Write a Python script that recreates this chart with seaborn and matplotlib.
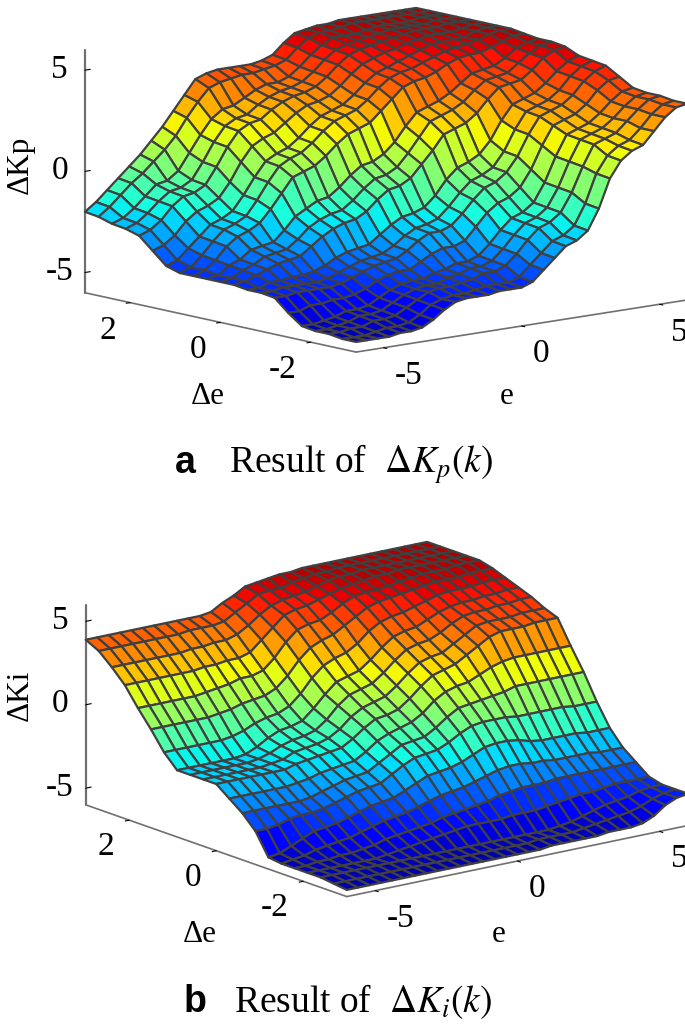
import numpy as np
import matplotlib
matplotlib.use("Agg")
import matplotlib.pyplot as plt
import seaborn as sns

# grid of the two surfaces
e_values = [-6.0, -5.6, -5.2, -4.8, -4.4, -4.0, -3.6, -3.2, -2.8, -2.4, -2.0, -1.6, -1.2, -0.8, -0.4, 0.0,
            0.4, 0.8, 1.2, 1.6, 2.0, 2.4, 2.8, 3.2, 3.6, 4.0, 4.4, 4.8, 5.2, 5.6, 6.0]
de_values = [3.0, 2.7, 2.4, 2.1, 1.8, 1.5, 1.2, 0.9, 0.6, 0.3, 0.0, -0.3, -0.6, -0.9, -1.2, -1.5, -1.8, -2.1, -2.4, -2.7, -3.0]

# result of delta Kp, one row per delta e
kp_rows = [
    [-2.0,-1.6,-1.1,-0.6,-0.1,0.4,1.0,1.6,2.3,3.0,3.7,3.9,4.0,4.0,4.0,4.0,4.1,4.3,4.8,5.2,5.3,5.4,5.4,5.5,5.5,5.5,5.5,5.5,5.5,5.5,5.5],
    [-2.1,-1.7,-1.2,-0.7,-0.3,0.2,0.7,1.3,2.1,2.8,3.4,3.6,3.7,3.8,3.8,3.9,4.0,4.2,4.7,5.1,5.3,5.3,5.4,5.5,5.5,5.5,5.5,5.5,5.5,5.5,5.5],
    [-2.3,-2.1,-1.7,-1.2,-0.7,-0.6,-0.2,0.6,1.4,2.1,2.5,2.6,2.9,3.2,3.4,3.4,3.6,4.0,4.5,4.9,5.2,5.2,5.2,5.3,5.4,5.4,5.4,5.4,5.5,5.5,5.5],
    [-2.4,-2.2,-1.8,-1.3,-0.9,-0.8,-0.5,0.3,1.2,1.9,2.2,2.3,2.7,3.0,3.2,3.3,3.5,3.9,4.4,4.8,5.0,5.1,5.2,5.3,5.4,5.4,5.4,5.4,5.5,5.5,5.5],
    [-2.6,-2.4,-2.0,-1.4,-1.0,-0.9,-0.6,0.2,1.1,1.8,2.1,2.2,2.6,2.9,3.1,3.2,3.4,3.8,4.3,4.7,4.9,5.0,5.1,5.2,5.3,5.4,5.4,5.4,5.5,5.5,5.5],
    [-3.2,-3.0,-2.6,-2.0,-1.6,-1.4,-1.1,-0.4,0.5,1.2,1.5,1.7,2.1,2.5,2.8,2.9,3.1,3.5,4.0,4.4,4.6,4.8,4.9,5.1,5.2,5.3,5.3,5.3,5.4,5.5,5.5],
    [-3.8,-3.6,-3.1,-2.6,-2.1,-1.9,-1.6,-0.9,-0.1,0.6,0.9,1.1,1.5,2.0,2.4,2.6,2.8,3.2,3.7,4.1,4.3,4.5,4.7,4.9,5.1,5.1,5.2,5.2,5.4,5.5,5.5],
    [-4.0,-3.8,-3.3,-2.7,-2.2,-2.0,-1.7,-1.0,-0.2,0.5,0.8,1.0,1.4,1.9,2.3,2.5,2.7,3.1,3.6,4.0,4.2,4.3,4.5,4.7,4.9,5.0,5.1,5.2,5.4,5.5,5.5],
    [-4.0,-3.8,-3.4,-2.8,-2.4,-2.2,-1.9,-1.3,-0.6,0.1,0.3,0.5,0.9,1.4,1.8,2.0,2.2,2.7,3.2,3.7,3.9,4.0,4.2,4.5,4.7,4.8,4.8,5.0,5.2,5.4,5.4],
    [-4.0,-3.9,-3.5,-3.3,-2.9,-2.8,-2.7,-2.2,-1.6,-1.3,-1.0,-0.9,-0.5,0.0,0.4,0.5,0.8,1.3,2.0,2.6,2.8,3.0,3.3,3.7,4.1,4.2,4.3,4.6,5.0,5.2,5.3],
    [-4.0,-3.9,-3.6,-3.4,-3.1,-3.0,-2.9,-2.5,-2.0,-1.7,-1.5,-1.4,-1.0,-0.5,-0.1,0.0,0.3,0.9,1.6,2.3,2.5,2.7,3.0,3.5,3.9,4.0,4.1,4.5,4.9,5.2,5.3],
    [-4.0,-3.9,-3.7,-3.5,-3.3,-3.2,-3.1,-2.7,-2.3,-2.0,-1.8,-1.7,-1.4,-0.9,-0.5,-0.4,-0.1,0.5,1.1,1.8,2.0,2.2,2.6,3.2,3.7,3.8,3.9,4.3,4.8,5.1,5.2],
    [-4.1,-4.1,-3.9,-3.9,-3.8,-3.8,-3.7,-3.5,-3.2,-3.0,-2.9,-2.8,-2.4,-2.0,-1.7,-1.6,-1.4,-0.9,-0.2,0.3,0.5,0.8,1.4,2.3,3.0,3.2,3.4,3.8,4.3,4.7,4.9],
    [-4.1,-4.1,-4.0,-4.0,-4.0,-4.0,-3.9,-3.7,-3.5,-3.3,-3.2,-3.1,-2.8,-2.4,-2.1,-2.0,-1.8,-1.3,-0.7,-0.2,0.0,0.3,1.0,2.0,2.8,3.0,3.2,3.6,4.2,4.6,4.8],
    [-4.2,-4.2,-4.1,-4.1,-4.1,-4.1,-4.0,-3.8,-3.6,-3.4,-3.3,-3.2,-2.9,-2.5,-2.2,-2.2,-2.0,-1.5,-0.9,-0.4,-0.2,0.2,0.9,1.9,2.7,2.9,3.1,3.5,4.1,4.5,4.7],
    [-4.8,-4.8,-4.6,-4.6,-4.5,-4.5,-4.4,-4.2,-3.9,-3.7,-3.6,-3.6,-3.3,-3.0,-2.8,-2.8,-2.6,-2.0,-1.4,-1.0,-0.8,-0.4,0.4,1.5,2.4,2.6,2.8,3.2,3.8,4.2,4.3],
    [-5.3,-5.3,-5.2,-5.1,-4.9,-4.9,-4.8,-4.5,-4.2,-4.0,-3.9,-3.9,-3.7,-3.6,-3.4,-3.4,-3.2,-2.7,-2.1,-1.6,-1.4,-1.0,-0.1,1.1,2.1,2.3,2.5,2.9,3.4,3.8,3.9],
    [-5.4,-5.4,-5.3,-5.2,-5.0,-5.0,-4.9,-4.6,-4.3,-4.1,-4.0,-4.0,-3.8,-3.7,-3.5,-3.5,-3.3,-2.8,-2.2,-1.7,-1.5,-1.1,-0.2,1.0,2.0,2.2,2.4,2.8,3.3,3.7,3.8],
    [-5.4,-5.4,-5.3,-5.3,-5.1,-5.1,-5.0,-4.7,-4.4,-4.1,-4.0,-4.0,-3.9,-3.8,-3.6,-3.6,-3.4,-2.9,-2.3,-1.8,-1.6,-1.2,-0.3,0.9,1.9,2.1,2.3,2.8,3.3,3.7,3.8],
    [-5.5,-5.5,-5.5,-5.4,-5.3,-5.3,-5.2,-4.9,-4.5,-4.3,-4.2,-4.2,-4.1,-4.0,-4.0,-4.0,-3.8,-3.3,-2.8,-2.3,-2.1,-1.7,-0.7,0.7,1.5,1.9,2.1,2.6,3.2,3.6,3.7],
    [-5.5,-5.5,-5.5,-5.5,-5.4,-5.4,-5.3,-5.0,-4.6,-4.3,-4.2,-4.2,-4.2,-4.1,-4.1,-4.1,-3.9,-3.4,-2.9,-2.4,-2.2,-1.8,-0.8,0.6,1.4,1.8,2.0,2.6,3.2,3.6,3.7],
]

# result of delta Ki, one row per delta e
ki_rows = [
    [3.9,3.9,3.9,3.9,3.9,3.9,3.9,3.9,3.9,3.9,3.9,4.0,4.4,4.7,5.1,5.2,5.3,5.4,5.4,5.5,5.5,5.5,5.5,5.5,5.5,5.5,5.5,5.5,5.5,5.5,5.5],
    [3.5,3.5,3.5,3.5,3.5,3.5,3.5,3.5,3.6,3.6,3.6,3.7,4.1,4.5,4.9,5.0,5.0,5.2,5.3,5.4,5.4,5.5,5.5,5.5,5.5,5.5,5.5,5.5,5.5,5.5,5.5],
    [2.8,2.8,2.8,2.8,2.8,2.8,2.8,2.9,2.9,3.0,3.0,3.2,3.6,4.1,4.5,4.7,4.8,4.9,5.1,5.3,5.4,5.4,5.5,5.5,5.5,5.5,5.5,5.5,5.5,5.5,5.5],
    [2.0,2.0,2.0,2.0,2.0,2.0,2.0,2.1,2.1,2.2,2.2,2.4,3.0,3.6,4.2,4.4,4.5,4.7,4.9,5.1,5.2,5.3,5.4,5.4,5.5,5.5,5.5,5.5,5.5,5.5,5.5],
    [0.9,0.9,0.9,0.9,0.9,0.9,1.0,1.1,1.2,1.4,1.4,1.6,2.2,3.0,3.6,3.8,3.9,4.2,4.6,4.9,5.0,5.0,5.1,5.2,5.3,5.4,5.4,5.4,5.5,5.5,5.5],
    [-0.1,-0.1,-0.1,-0.1,-0.1,-0.1,0.0,0.1,0.3,0.4,0.5,0.8,1.4,2.2,2.8,3.1,3.3,3.7,4.1,4.5,4.7,4.8,4.9,5.0,5.1,5.2,5.2,5.2,5.3,5.3,5.3],
    [-1.2,-1.2,-1.2,-1.2,-1.2,-1.2,-1.1,-0.9,-0.6,-0.4,-0.3,0.0,0.6,1.4,2.0,2.3,2.5,2.9,3.5,3.9,4.1,4.2,4.4,4.6,4.8,4.9,4.9,4.9,5.0,5.0,5.0],
    [-2.0,-2.0,-2.0,-2.0,-2.0,-2.0,-1.9,-1.6,-1.2,-0.9,-0.8,-0.6,0.0,0.7,1.3,1.5,1.7,2.2,2.8,3.3,3.5,3.6,3.9,4.2,4.4,4.5,4.5,4.6,4.6,4.7,4.7],
    [-2.0,-2.0,-2.0,-2.0,-2.0,-2.0,-1.9,-1.7,-1.4,-1.2,-1.1,-0.9,-0.4,0.3,0.8,1.0,1.2,1.7,2.3,2.8,3.0,3.1,3.4,3.8,4.1,4.2,4.2,4.3,4.3,4.4,4.4],
    [-2.0,-2.0,-2.0,-2.0,-2.0,-2.0,-1.9,-1.8,-1.5,-1.4,-1.3,-1.1,-0.7,-0.1,0.3,0.5,0.7,1.2,1.8,2.3,2.5,2.6,3.0,3.4,3.8,3.9,3.9,3.9,4.0,4.0,4.0],
    [-2.0,-2.0,-2.0,-2.0,-2.0,-2.0,-2.0,-1.8,-1.7,-1.6,-1.5,-1.4,-1.0,-0.5,-0.1,0.0,0.2,0.7,1.3,1.8,2.0,2.2,2.6,3.0,3.4,3.6,3.6,3.6,3.7,3.7,3.7],
    [-2.6,-2.6,-2.6,-2.6,-2.6,-2.6,-2.5,-2.4,-2.2,-2.1,-2.0,-1.9,-1.5,-1.0,-0.7,-0.5,-0.3,0.1,0.7,1.1,1.3,1.4,1.7,2.0,2.2,2.3,2.3,2.3,2.3,2.3,2.3],
    [-3.2,-3.2,-3.2,-3.2,-3.2,-3.2,-3.1,-2.9,-2.7,-2.5,-2.4,-2.3,-1.9,-1.5,-1.1,-1.0,-0.9,-0.5,0.0,0.4,0.5,0.6,0.7,0.8,1.0,1.0,1.0,1.0,1.0,1.0,1.0],
    [-4.0,-4.0,-3.9,-3.7,-3.6,-3.6,-3.5,-3.3,-3.1,-2.9,-2.8,-2.7,-2.3,-1.9,-1.6,-1.5,-1.4,-1.1,-0.7,-0.4,-0.3,-0.3,-0.3,-0.4,-0.4,-0.4,-0.4,-0.4,-0.5,-0.5,-0.5],
    [-5.3,-5.2,-4.9,-4.6,-4.3,-4.2,-4.1,-3.9,-3.7,-3.5,-3.4,-3.3,-3.0,-2.7,-2.4,-2.3,-2.2,-2.0,-1.7,-1.4,-1.3,-1.3,-1.4,-1.6,-1.7,-1.7,-1.7,-1.7,-1.8,-1.8,-1.8],
    [-5.4,-5.3,-5.2,-5.0,-4.9,-4.8,-4.7,-4.5,-4.3,-4.1,-4.0,-3.9,-3.7,-3.5,-3.3,-3.2,-3.1,-2.9,-2.7,-2.5,-2.4,-2.4,-2.5,-2.5,-2.6,-2.6,-2.6,-2.6,-2.7,-2.7,-2.7],
    [-5.4,-5.4,-5.3,-5.3,-5.2,-5.2,-5.1,-5.0,-4.8,-4.7,-4.6,-4.5,-4.4,-4.2,-4.1,-4.0,-3.9,-3.8,-3.6,-3.5,-3.4,-3.4,-3.4,-3.3,-3.3,-3.3,-3.3,-3.3,-3.3,-3.3,-3.3],
    [-5.4,-5.4,-5.4,-5.4,-5.4,-5.4,-5.4,-5.3,-5.2,-5.1,-5.0,-4.9,-4.8,-4.7,-4.6,-4.6,-4.6,-4.6,-4.5,-4.5,-4.5,-4.4,-4.3,-4.2,-4.1,-4.1,-4.0,-3.9,-3.9,-3.9,-3.9],
    [-5.4,-5.4,-5.4,-5.4,-5.4,-5.4,-5.4,-5.4,-5.4,-5.4,-5.4,-5.4,-5.4,-5.4,-5.4,-5.4,-5.4,-5.4,-5.4,-5.4,-5.4,-5.3,-5.2,-5.0,-4.8,-4.6,-4.5,-4.4,-4.2,-4.1,-4.1],
    [-5.5,-5.5,-5.5,-5.5,-5.5,-5.5,-5.5,-5.5,-5.5,-5.5,-5.5,-5.5,-5.5,-5.5,-5.5,-5.5,-5.5,-5.5,-5.4,-5.4,-5.4,-5.4,-5.3,-5.2,-5.1,-5.0,-4.9,-4.7,-4.4,-4.2,-4.1],
    [-5.6,-5.6,-5.6,-5.6,-5.6,-5.6,-5.6,-5.6,-5.6,-5.6,-5.6,-5.6,-5.6,-5.6,-5.6,-5.6,-5.6,-5.6,-5.5,-5.5,-5.5,-5.5,-5.5,-5.4,-5.4,-5.4,-5.3,-5.0,-4.5,-4.2,-4.1],
]

e_ticks = [-5, 0, 5]
de_ticks = [-2, 0, 2]
z_ticks = [-5, 0, 5]

sns.set_theme(style="white")
plt.rcParams["font.family"] = ["Liberation Serif", "DejaVu Serif"]
plt.rcParams["mathtext.fontset"] = "stix"
plt.rcParams["axes.unicode_minus"] = False
plt.rcParams["text.color"] = "black"

W, H = 685, 1027
fig = plt.figure(figsize=(W / 100, H / 100), dpi=100)


def draw_surface(rows, rect, aspect, elev, azim):
    # rect is left, bottom of the axes box and its side, in pixels
    left, bottom, side = rect
    ax = fig.add_axes([left / W, (H - bottom) / H, side / W, side / H], projection="3d", proj_type="ortho")
    ax.patch.set_visible(False)
    ax.view_init(elev=elev, azim=azim)
    ax.set_box_aspect(aspect)
    X, Y = np.meshgrid(e_values, de_values)
    ax.plot_surface(X, Y, np.array(rows), cmap="jet", vmin=-6, vmax=6, rstride=1, cstride=1,
                    edgecolor="#404040", linewidth=1.6, shade=False, antialiased=True)
    ax.set_xlim(-6, 6, view_margin=0)
    ax.set_ylim(-3, 3, view_margin=0)
    ax.set_zlim(-6, 6, view_margin=0)
    ax.set_xticks(e_ticks)
    ax.set_yticks(de_ticks)
    ax.set_zticks(z_ticks)
    ax.grid(False)
    for axis in [ax.xaxis, ax.yaxis, ax.zaxis]:
        axis.set_pane_color((1, 1, 1, 0))
        axis.pane.set_edgecolor((1, 1, 1, 0))
        axis.line.set_color("#707070")
        axis.line.set_linewidth(1.2)
        axis._axinfo["tick"]["inward_factor"] = 0.15
        axis._axinfo["tick"]["outward_factor"] = 0.0
        axis._axinfo["tick"]["linewidth"] = {True: 0.8, False: 0.5}
        axis._axinfo["tick"]["color"] = "#505050"
    # z ticks stick out to the left of the axis
    ax.zaxis._axinfo["tick"]["inward_factor"] = 0.0
    ax.zaxis._axinfo["tick"]["outward_factor"] = 0.2
    ax.zaxis.line.set_linewidth(1.6)
    ax.tick_params(labelsize=24, colors="black", pad=2)
    ax.tick_params(axis="z", pad=2)
    for label in ax.get_xticklabels():
        label.set_ha("left")
    for label in ax.get_yticklabels():
        label.set_ha("right")
    for label in ax.get_zticklabels():
        label.set_va("center")
    return ax


draw_surface(kp_rows, (61, 500, 633), (434, 419, 247), 10.7, -130.3)
draw_surface(ki_rows, (67, 1035, 623), (431, 428, 208), 15.7, -127.6)

# axis names, placed by hand like the original layout
fig.text(20 / W, 1 - 165 / H, "ΔKp", fontsize=22.5, rotation=90, ha="center", va="center")
fig.text(208 / W, 1 - 397 / H, "Δe", fontsize=22.5, ha="center", va="center")
fig.text(507 / W, 1 - 397 / H, "e", fontsize=22.5, ha="center", va="center")
fig.text(20 / W, 1 - 695 / H, "ΔKi", fontsize=22.5, rotation=90, ha="center", va="center")
fig.text(200 / W, 1 - 935 / H, "Δe", fontsize=22.5, ha="center", va="center")
fig.text(499 / W, 1 - 935 / H, "e", fontsize=22.5, ha="center", va="center")

# captions below each panel
fig.text(175 / W, 1 - 473 / H, "a", family="Liberation Sans", weight="bold", fontsize=27)
fig.text(229 / W, 1 - 473 / H, r"Result of  $\Delta K_p(k)$", fontsize=27)
fig.text(184 / W, 1 - 1012 / H, "b", family="Liberation Sans", weight="bold", fontsize=27)
fig.text(234 / W, 1 - 1012 / H, r"Result of  $\Delta K_i(k)$", fontsize=27)

fig.savefig("out.png", dpi=100)
